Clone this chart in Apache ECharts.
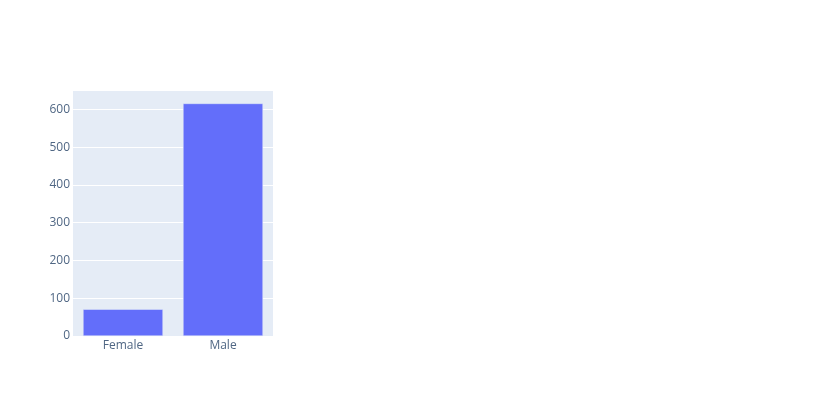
<!DOCTYPE html>
<html>
<head>
    <meta charset="utf-8">
    <title>ECharts</title>
    <script type="text/javascript" src="https://cdn.jsdelivr.net/npm/echarts@6/dist/echarts.min.js"></script>
    <style type="text/css">
        html, body { margin: 0; padding: 0; background: #fff; }
        #main { width: 840px; height: 409px; }
    </style>
</head>
<body>
<div id="main"></div>
<script type="text/javascript">
    // 数据
    var categories = ['Female', 'Male'];
    var counts = [71, 616];
    var yTicks = [0, 100, 200, 300, 400, 500, 600];

    var myChart = echarts.init(document.getElementById('main'));

    var option = {
        animation: false,
        textStyle: { fontFamily: 'Open Sans' },
        grid: {
            left: 73,
            right: 567,
            top: 91,
            bottom: 73,
            show: true,
            backgroundColor: '#E5ECF6',
            borderWidth: 0
        },
        xAxis: {
            type: 'category',
            data: categories,
            axisLine: { show: false },
            axisTick: { show: false },
            axisLabel: { color: '#506784', fontSize: 12, margin: 4 }
        },
        yAxis: {
            type: 'value',
            min: 0,
            max: 649,
            interval: 100,
            axisLine: { show: false },
            axisTick: { show: false },
            splitLine: {
                lineStyle: { color: '#ffffff', width: 1 },
                showMaxLine: false
            },
            axisLabel: {
                color: '#506784',
                fontSize: 12,
                margin: 3,
                showMaxLabel: false,
                formatter: function (v) {
                    return yTicks.indexOf(v) >= 0 ? String(v) : '';
                }
            }
        },
        series: [{
            type: 'bar',
            data: counts,
            barCategoryGap: '20%',
            itemStyle: {
                color: '#636EFA',
                borderColor: '#E5ECF6',
                borderWidth: 0.5
            }
        }]
    };

    myChart.setOption(option);
</script>
</body>
</html>
